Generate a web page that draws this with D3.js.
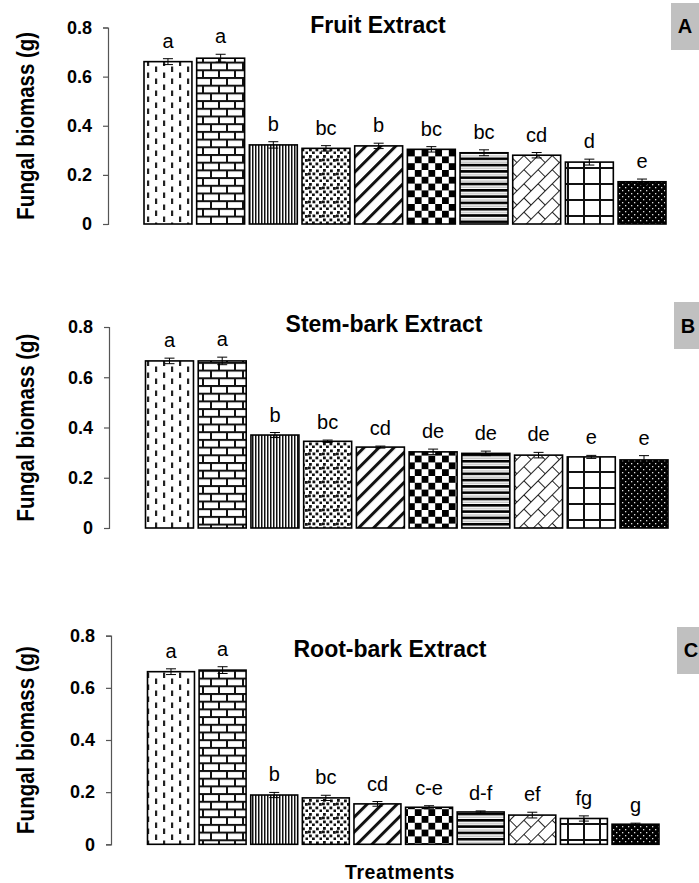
<!DOCTYPE html>
<html>
<head>
<meta charset="utf-8">
<script src="https://cdn.jsdelivr.net/npm/d3@7"></script>
<style>
  html, body { margin: 0; padding: 0; background: #fff; }
  svg { display: block; }
  text { font-family: "Liberation Sans", Arial, sans-serif; }
</style>
</head>
<body>
<svg id="chart" width="699" height="883"></svg>
<script>
// ---------------- DATA ----------------
const treatments = ["T1","T2","T3","T4","T5","T6","T7","T8","T9","T10"];
const yTicks = [0, 0.2, 0.4, 0.6, 0.8];
const yTickLabels = ["0", "0.2", "0.4", "0.6", "0.8"];

const fruitMeans   = [0.661, 0.675, 0.322, 0.308, 0.318, 0.304, 0.290, 0.280, 0.252, 0.172];
const fruitErr     = [0.012, 0.016, 0.013, 0.011, 0.011, 0.011, 0.012, 0.011, 0.012, 0.011];
const fruitLetters = ["a", "a", "b", "bc", "b", "bc", "bc", "cd", "d", "e"];

const stemMeans   = [0.665, 0.665, 0.370, 0.345, 0.322, 0.303, 0.297, 0.290, 0.283, 0.271];
const stemErr     = [0.011, 0.015, 0.010, 0.005, 0.004, 0.011, 0.009, 0.011, 0.006, 0.017];
const stemLetters = ["a", "a", "b", "bc", "cd", "de", "de", "de", "e", "e"];

const rootMeans   = [0.662, 0.668, 0.189, 0.178, 0.155, 0.142, 0.124, 0.112, 0.099, 0.077];
const rootErr     = [0.011, 0.013, 0.010, 0.010, 0.009, 0.006, 0.004, 0.011, 0.010, 0.004];
const rootLetters = ["a", "a", "b", "bc", "cd", "c-e", "d-f", "ef", "fg", "g"];

const panelTitles = ["Fruit Extract", "Stem-bark Extract", "Root-bark Extract"];
const panelTags = ["A", "B", "C"];
const yTitle = "Fungal biomass (g)";
const xTitle = "Treatments";

// ---------------- LAYOUT ----------------
const panels = [
  { means: fruitMeans, err: fruitErr, letters: fruitLetters, title: panelTitles[0], tag: panelTags[0],
    y0: 224, y1: 27.5, axisX: 108, barL: 144, barR: 666, titleX: 378, titleY: 33, boxX: 671, boxY: 3, tagY: 33 },
  { means: stemMeans, err: stemErr, letters: stemLetters, title: panelTitles[1], tag: panelTags[1],
    y0: 528, y1: 327, axisX: 109, barL: 145.5, barR: 668, titleX: 384, titleY: 332, boxX: 674, boxY: 302, tagY: 333 },
  { means: rootMeans, err: rootErr, letters: rootLetters, title: panelTitles[2], tag: panelTags[2],
    y0: 844.3, y1: 635.7, axisX: 111, barL: 147.5, barR: 659, titleX: 390, titleY: 657, boxX: 677, boxY: 627, tagY: 657 }
];

const svg = d3.select("#chart");
const defs = svg.append("defs");

// ---------------- PATTERNS ----------------
function pat(id, w, h, transform) {
  const p = defs.append("pattern").attr("id", id)
    .attr("patternUnits", "userSpaceOnUse").attr("width", w).attr("height", h);
  if (transform) p.attr("patternTransform", transform);
  return p;
}
// 1 vertical dashes
{
  const p = pat("p1", 16, 12);
  p.append("rect").attr("width", 16).attr("height", 12).attr("fill", "#fff");
  p.append("rect").attr("x", 3).attr("y", 0.5).attr("width", 2.2).attr("height", 5.5).attr("fill", "#222");
  p.append("rect").attr("x", 11).attr("y", 6.5).attr("width", 2.2).attr("height", 5.5).attr("fill", "#222");
}
// 2 bricks
{
  const p = pat("p2", 16, 15.4);
  p.append("rect").attr("width", 16).attr("height", 15.4).attr("fill", "#fff");
  p.append("rect").attr("x", 0).attr("y", 0).attr("width", 16).attr("height", 2).attr("fill", "#111");
  p.append("rect").attr("x", 0).attr("y", 7.7).attr("width", 16).attr("height", 2).attr("fill", "#111");
  p.append("rect").attr("x", 2).attr("y", 0).attr("width", 2).attr("height", 7.7).attr("fill", "#111");
  p.append("rect").attr("x", 10).attr("y", 7.7).attr("width", 2).attr("height", 7.7).attr("fill", "#111");
}
// 3 dense vertical lines
{
  const p = pat("p3", 3, 10);
  p.append("rect").attr("width", 3).attr("height", 10).attr("fill", "#fff");
  p.append("rect").attr("x", 0).attr("width", 1.5).attr("height", 10).attr("fill", "#111");
}
// 4 random small squares
{
  const p = pat("p4", 14, 14);
  p.append("rect").attr("width", 14).attr("height", 14).attr("fill", "#fff");
  [[1,1],[8,1.5],[4.5,4.5],[11,5],[1,8.5],[7.5,8.5],[11.5,11.5],[4,11.5],[0,4.5]].forEach(([x, y]) =>
    p.append("rect").attr("x", x).attr("y", y).attr("width", 2.8).attr("height", 2.8).attr("fill", "#111"));
}
// 5 wide diagonal stripes
{
  const p = pat("p5", 10.6, 10, "rotate(45)");
  p.append("rect").attr("width", 10.6).attr("height", 10).attr("fill", "#fff");
  p.append("rect").attr("x", 0).attr("width", 3).attr("height", 10).attr("fill", "#111");
}
// 6 checkerboard
{
  const p = pat("p6", 13.6, 13.6);
  p.append("rect").attr("width", 13.6).attr("height", 13.6).attr("fill", "#fff");
  p.append("rect").attr("x", 0).attr("y", 0).attr("width", 6.8).attr("height", 6.8).attr("fill", "#000");
  p.append("rect").attr("x", 6.8).attr("y", 6.8).attr("width", 6.8).attr("height", 6.8).attr("fill", "#000");
}
// 7 horizontal stripes
{
  const p = pat("p7", 10, 6.3);
  p.append("rect").attr("width", 10).attr("height", 6.3).attr("fill", "#fff");
  p.append("rect").attr("y", 0).attr("width", 10).attr("height", 2.6).attr("fill", "#000");
  p.append("rect").attr("y", 4.2).attr("width", 10).attr("height", 0.8).attr("fill", "#999");
}
// 8 diagonal brick / trellis
{
  const p = pat("p8", 20, 20, "rotate(-45)");
  p.append("rect").attr("width", 20).attr("height", 20).attr("fill", "#fff");
  p.append("rect").attr("x", 0).attr("y", 0).attr("width", 20).attr("height", 1).attr("fill", "#222");
  p.append("rect").attr("x", 0).attr("y", 10).attr("width", 20).attr("height", 1).attr("fill", "#222");
  p.append("rect").attr("x", 0).attr("y", 0).attr("width", 1).attr("height", 10).attr("fill", "#222");
  p.append("rect").attr("x", 10).attr("y", 10).attr("width", 1).attr("height", 10).attr("fill", "#222");
}
// 9 large grid
{
  const p = pat("p9", 16, 16);
  p.append("rect").attr("width", 16).attr("height", 16).attr("fill", "#fff");
  p.append("rect").attr("x", 7).attr("y", 0).attr("width", 2).attr("height", 16).attr("fill", "#111");
  p.append("rect").attr("x", 0).attr("y", 7).attr("width", 16).attr("height", 2).attr("fill", "#111");
}
// 10 black with white dots
{
  const p = pat("p10", 6, 6);
  p.append("rect").attr("width", 6).attr("height", 6).attr("fill", "#000");
  p.append("rect").attr("x", 1).attr("y", 1).attr("width", 1.3).attr("height", 1.3).attr("fill", "#ddd");
  p.append("rect").attr("x", 4).attr("y", 4).attr("width", 1.3).attr("height", 1.3).attr("fill", "#ddd");
}
const fills = ["p1","p2","p3","p4","p5","p6","p7","p8","p9","p10"];

// ---------------- DRAW ----------------
panels.forEach((P, pi) => {
  const g = svg.append("g");
  const pIn = 0.09, pOut = pIn / 2;
  const step = (P.barR - P.barL) / (treatments.length - 1 + (1 - pIn));
  const x = d3.scaleBand().domain(treatments)
    .range([P.barL - pOut * step, P.barR + pOut * step])
    .paddingInner(pIn).paddingOuter(pOut);
  const y = d3.scaleLinear().domain([0, 0.8]).range([P.y0, P.y1]);

  // y axis
  const axis = d3.axisLeft(y).tickValues(yTicks)
    .tickFormat((d, i) => yTickLabels[i]).tickSizeOuter(0).tickSize(5).tickPadding(11);
  const ag = g.append("g").attr("transform", `translate(${P.axisX},0)`).call(axis);
  ag.select(".domain").attr("stroke", "#555").attr("stroke-width", 1.2);
  ag.selectAll(".tick line").attr("stroke", "#555").attr("stroke-width", 1.2);
  ag.selectAll(".tick text").attr("font-size", 18).attr("font-weight", "bold")
    .attr("fill", "#000").attr("font-family", "Liberation Sans, Arial, sans-serif");

  // y title
  g.append("text")
    .attr("transform", `translate(34,${(P.y0 + P.y1) / 2}) rotate(-90) scale(1,1.15)`)
    .attr("text-anchor", "middle").attr("font-size", 20.5).attr("font-weight", "bold")
    .text(yTitle);

  // bars
  const data = treatments.map((t, i) => ({ t, v: P.means[i], e: P.err[i], l: P.letters[i], f: fills[i] }));
  g.selectAll("rect.bar").data(data).join("rect").attr("class", "bar")
    .attr("x", d => x(d.t)).attr("width", x.bandwidth())
    .attr("y", d => y(d.v)).attr("height", d => y(0) - y(d.v))
    .attr("fill", d => `url(#${d.f})`).attr("stroke", "#000").attr("stroke-width", 1.6);

  // error bars
  const cap = 5;
  const eb = g.selectAll("g.eb").data(data).join("g").attr("class", "eb");
  eb.append("line")
    .attr("x1", d => x(d.t) + x.bandwidth() / 2).attr("x2", d => x(d.t) + x.bandwidth() / 2)
    .attr("y1", d => y(d.v + d.e)).attr("y2", d => y(d.v - d.e))
    .attr("stroke", "#000").attr("stroke-width", 1);
  eb.append("line")
    .attr("x1", d => x(d.t) + x.bandwidth() / 2 - cap).attr("x2", d => x(d.t) + x.bandwidth() / 2 + cap)
    .attr("y1", d => y(d.v + d.e)).attr("y2", d => y(d.v + d.e))
    .attr("stroke", "#000").attr("stroke-width", 1);
  eb.append("line")
    .attr("x1", d => x(d.t) + x.bandwidth() / 2 - cap).attr("x2", d => x(d.t) + x.bandwidth() / 2 + cap)
    .attr("y1", d => y(d.v - d.e)).attr("y2", d => y(d.v - d.e))
    .attr("stroke", "#000").attr("stroke-width", 1);

  // letters
  g.selectAll("text.letter").data(data).join("text").attr("class", "letter")
    .attr("x", d => x(d.t) + x.bandwidth() / 2)
    .attr("y", d => y(d.v + d.e) - 11)
    .attr("text-anchor", "middle").attr("font-size", 20).attr("fill", "#000")
    .text(d => d.l);

  // title
  g.append("text").attr("x", P.titleX).attr("y", P.titleY)
    .attr("text-anchor", "middle").attr("font-size", 23).attr("font-weight", "bold")
    .text(P.title);

  // tag box
  g.append("rect").attr("x", P.boxX).attr("y", P.boxY).attr("width", 40).attr("height", 47)
    .attr("fill", "#c0c0c0");
  g.append("text").attr("x", P.boxX + 14).attr("y", P.tagY)
    .attr("text-anchor", "middle").attr("font-size", 20).attr("font-weight", "bold")
    .text(P.tag);

  if (pi === 2) {
    g.append("text").attr("x", 400).attr("y", 879)
      .attr("text-anchor", "middle").attr("font-size", 19.5).attr("font-weight", "bold")
      .attr("letter-spacing", 0.6)
      .text(xTitle);
  }
});
</script>
</body>
</html>
